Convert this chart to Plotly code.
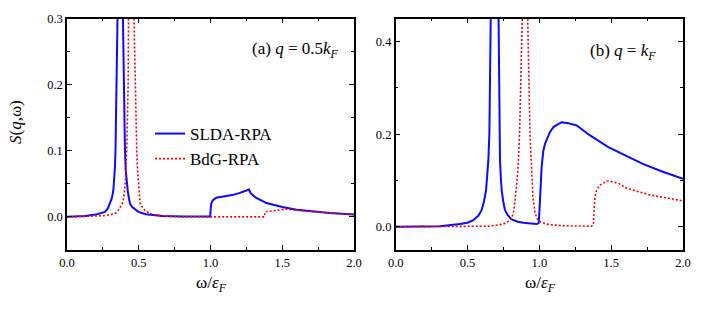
import plotly.graph_objects as go

W, H = 706, 311

# ---- Panel (a): q = 0.5 k_F ----
a_slda_x = [0.0, 0.125, 0.2, 0.265, 0.285, 0.30, 0.312, 0.323, 0.329, 0.334, 0.338, 0.347, 0.352,
            0.36, 0.371, 0.382, 0.39, 0.398, 0.404, 0.409, 0.415, 0.423, 0.43, 0.439, 0.455,
            0.475, 0.497, 0.55, 0.66, 0.8, 0.998,
            1.0, 1.005, 1.015, 1.04, 1.09, 1.15, 1.2, 1.24, 1.268, 1.28, 1.31, 1.39, 1.5,
            1.6, 1.7, 1.83, 2.0]
a_slda_y = [0.0003, 0.0015, 0.0035, 0.0076, 0.013, 0.020, 0.028, 0.040, 0.055, 0.075, 0.10, 0.20, 0.30,
            0.60, 1.0, 0.60, 0.30, 0.15, 0.10, 0.071, 0.055, 0.040, 0.030, 0.020, 0.015,
            0.011, 0.0076, 0.004, 0.0015, 0.0008, 0.0005,
            0.008, 0.020, 0.025, 0.029, 0.031, 0.033, 0.036, 0.039, 0.0415, 0.036, 0.030, 0.021, 0.015,
            0.011, 0.0085, 0.006, 0.0035]

a_bdg_x = [0.0, 0.15, 0.25, 0.311, 0.34, 0.357, 0.372, 0.385, 0.394, 0.40, 0.406, 0.41, 0.416,
           0.426, 0.432, 0.44, 0.45, 0.458, 0.467, 0.478, 0.486, 0.492, 0.498, 0.503, 0.509,
           0.516, 0.525, 0.543, 0.57, 0.6, 0.7, 0.8, 1.0,
           1.376, 1.38, 1.45, 1.53, 1.6, 1.7, 1.83, 2.0]
a_bdg_y = [0.0, 0.0008, 0.0018, 0.0036, 0.006, 0.010, 0.015, 0.020, 0.027, 0.035, 0.05, 0.07, 0.10,
           0.20, 0.30, 0.60, 1.0, 0.60, 0.30, 0.17, 0.10, 0.07, 0.05, 0.035, 0.022,
           0.017, 0.014, 0.010, 0.006, 0.0036, 0.001, 0.0003, 0.0001,
           0.0001, 0.0076, 0.010, 0.012, 0.010, 0.0085, 0.0058, 0.0033]

# ---- Panel (b): q = k_F ----
b_slda_x = [0.0, 0.2, 0.308, 0.447, 0.50, 0.54, 0.575, 0.598, 0.615, 0.629, 0.637, 0.645, 0.652,
            0.661, 0.675, 0.69, 0.705, 0.714, 0.721, 0.726, 0.732, 0.738, 0.75, 0.761, 0.78,
            0.807, 0.85, 0.888, 0.981, 0.995, 1.0, 1.005,
            1.016, 1.028, 1.04, 1.074, 1.1, 1.155, 1.2, 1.26, 1.35, 1.48, 1.5, 1.54, 1.6,
            1.72, 1.85, 2.0]
b_slda_y = [0.0, 0.0008, 0.0015, 0.006, 0.009, 0.0145, 0.024, 0.036, 0.055, 0.079, 0.105, 0.144, 0.20,
            0.45, 0.80, 1.2, 0.80, 0.45, 0.20, 0.144, 0.105, 0.079, 0.052, 0.036, 0.025,
            0.016, 0.011, 0.0087, 0.006, 0.008, 0.030, 0.058,
            0.13, 0.165, 0.18, 0.205, 0.216, 0.226, 0.224, 0.219, 0.198, 0.172, 0.169, 0.164, 0.154,
            0.136, 0.12, 0.104]

b_bdg_x = [0.0, 0.3, 0.656, 0.749, 0.78, 0.807, 0.822, 0.835, 0.85, 0.862, 0.881, 0.9, 0.919, 0.935,
           0.945, 0.955, 0.97, 0.985, 1.005, 1.05, 1.097, 1.2, 1.36, 1.376, 1.38, 1.387, 1.40,
           1.42, 1.47, 1.5, 1.55, 1.61, 1.77, 2.0]
b_bdg_y = [0.0, 0.0005, 0.0015, 0.006, 0.011, 0.018, 0.035, 0.07, 0.12, 0.20, 0.45, 1.0, 0.45, 0.20,
           0.11, 0.065, 0.030, 0.017, 0.011, 0.006, 0.004, 0.002, 0.0015, 0.004, 0.03, 0.065, 0.08,
           0.09, 0.099, 0.098, 0.094, 0.083, 0.069, 0.056]

x_ticks = [0.0, 0.5, 1.0, 1.5, 2.0]
x_tick_labels = ["0.0", "0.5", "1.0", "1.5", "2.0"]
ya_ticks = [0.0, 0.1, 0.2, 0.3]
ya_tick_labels = ["0.0", "0.1", "0.2", "0.3"]
yb_ticks = [0.0, 0.2, 0.4]
yb_tick_labels = ["0.0", "0.2", "0.4"]

SERIF = "Liberation Serif, Times New Roman, serif"
BLUE = "#0a0aff"
RED = "#ff0000"

fig = go.Figure()
fig.add_trace(go.Scatter(x=a_slda_x, y=a_slda_y, mode="lines", name="SLDA-RPA",
                         line=dict(color=BLUE, width=2), xaxis="x", yaxis="y", legendgroup="s"))
fig.add_trace(go.Scatter(x=a_bdg_x, y=a_bdg_y, mode="lines", name="BdG-RPA",
                         line=dict(color=RED, width=1.6, dash="2px,2px"), xaxis="x", yaxis="y", legendgroup="b"))
fig.add_trace(go.Scatter(x=b_slda_x, y=b_slda_y, mode="lines", name="SLDA-RPA", showlegend=False,
                         line=dict(color=BLUE, width=2), xaxis="x2", yaxis="y2", legendgroup="s"))
fig.add_trace(go.Scatter(x=b_bdg_x, y=b_bdg_y, mode="lines", name="BdG-RPA", showlegend=False,
                         line=dict(color=RED, width=1.6, dash="2px,2px"), xaxis="x2", yaxis="y2", legendgroup="b"))

def px_x(p):
    return p / W

def px_y(p):
    return 1 - p / H

ydom = [px_y(250), px_y(18.5)]
common_axis = dict(showline=True, linecolor="black", linewidth=1.5, mirror="allticks",
                   ticks="inside", ticklen=5, tickwidth=1.3, tickcolor="black",
                   showgrid=False, zeroline=False, automargin=False,
                   tickfont=dict(family=SERIF, size=12.5, color="black"))

fig.update_layout(
    width=W, height=H,
    margin=dict(l=0, r=0, t=0, b=0, pad=0),
    paper_bgcolor="white", plot_bgcolor="white",
    xaxis=dict(domain=[px_x(67), px_x(354)], range=[0, 2], anchor="y",
               tickvals=x_ticks, ticktext=x_tick_labels,
               minor=dict(ticks="inside", ticklen=3, dtick=0.25, tick0=0, tickcolor="black", tickwidth=1.2),
               **common_axis),
    yaxis=dict(domain=ydom, range=[-0.05, 0.3], anchor="x",
               tickvals=ya_ticks, ticktext=ya_tick_labels,
               minor=dict(ticks="inside", ticklen=3, dtick=0.05, tick0=0, tickcolor="black", tickwidth=1.2),
               **common_axis),
    xaxis2=dict(domain=[px_x(395.7), px_x(683)], range=[0, 2], anchor="y2",
                tickvals=x_ticks, ticktext=x_tick_labels,
                minor=dict(ticks="inside", ticklen=3, dtick=0.25, tick0=0, tickcolor="black", tickwidth=1.2),
                **common_axis),
    yaxis2=dict(domain=ydom, range=[-0.05, 0.45], anchor="x2",
                tickvals=yb_ticks, ticktext=yb_tick_labels,
                minor=dict(ticks="inside", ticklen=3, dtick=0.1, tick0=0, tickcolor="black", tickwidth=1.2),
                **common_axis),
    legend=dict(x=px_x(150), y=px_y(116), xanchor="left", yanchor="top",
                bgcolor="rgba(0,0,0,0)", borderwidth=0,
                font=dict(family=SERIF, size=17, color="black"),
                tracegroupgap=0, itemwidth=30),
    showlegend=True,
)

annotations = [
    dict(text="(a) <i>q</i> = 0.5<i>k</i><sub><i>F</i></sub>", x=px_x(341), y=px_y(50),
         xanchor="right", yanchor="middle", font=dict(family=SERIF, size=17, color="black")),
    dict(text="(b) <i>q</i> = <i>k</i><sub><i>F</i></sub>", x=px_x(658), y=px_y(52),
         xanchor="right", yanchor="middle", font=dict(family=SERIF, size=17, color="black")),
    dict(text="ω/<i>ε</i><sub><i>F</i></sub>", x=px_x(211), y=px_y(284),
         xanchor="center", yanchor="middle", font=dict(family=SERIF, size=17, color="black")),
    dict(text="ω/<i>ε</i><sub><i>F</i></sub>", x=px_x(540), y=px_y(284),
         xanchor="center", yanchor="middle", font=dict(family=SERIF, size=17, color="black")),
    dict(text="<i>S</i>(<i>q</i>,ω)", x=px_x(15), y=px_y(122), textangle=-90,
         xanchor="center", yanchor="middle", font=dict(family=SERIF, size=17, color="black")),
]
for a in annotations:
    a.update(xref="paper", yref="paper", showarrow=False)
fig.update_layout(annotations=annotations)

fig.write_html("out.html", config={"displayModeBar": False},
               post_script="document.body.style.margin='0';document.body.style.overflow='hidden';")
